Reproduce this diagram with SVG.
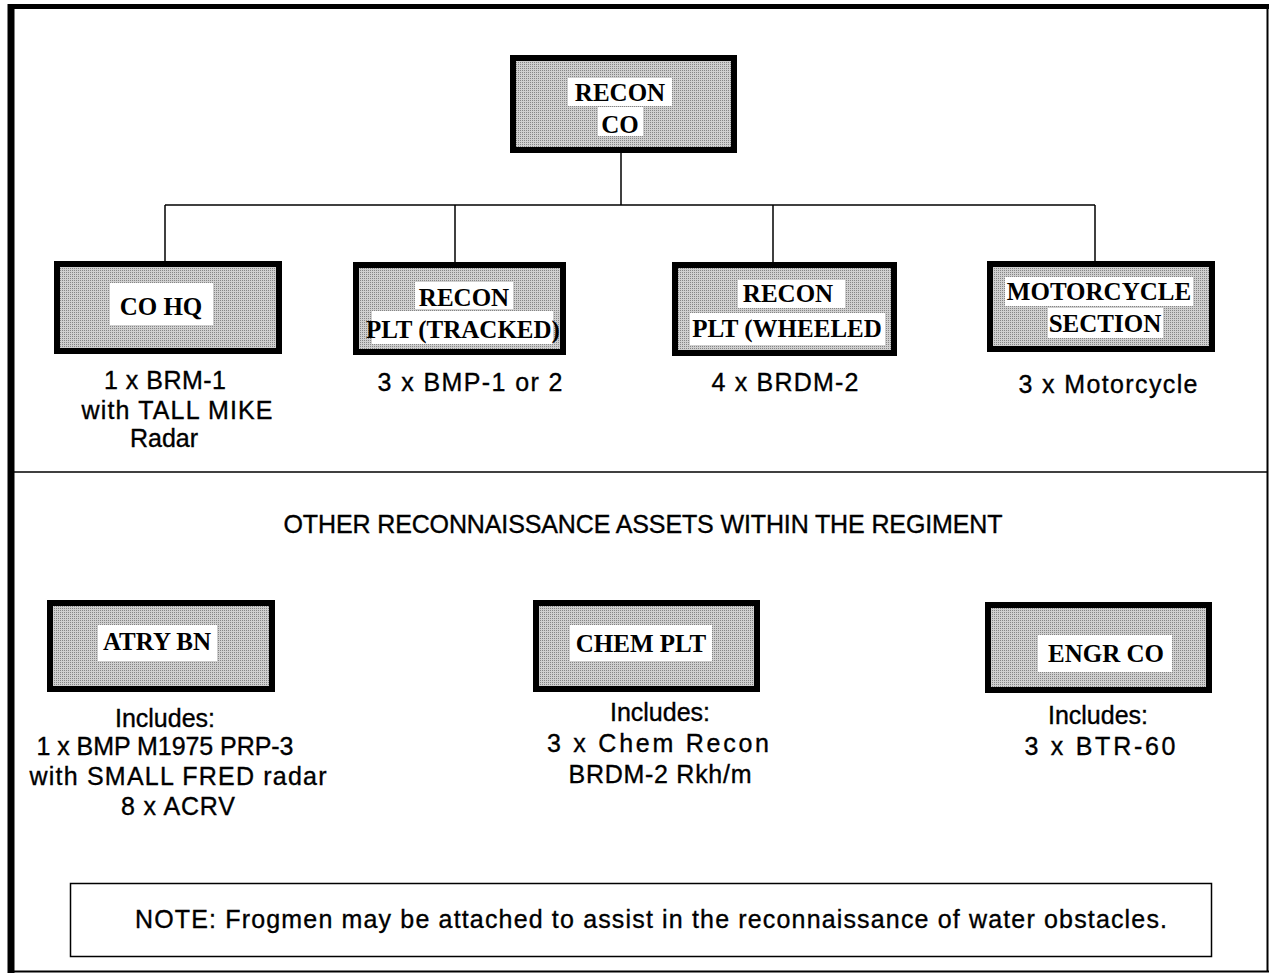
<svg xmlns="http://www.w3.org/2000/svg" width="1273" height="975" viewBox="0 0 1273 975">
<defs>
<pattern id="dots" width="2" height="2" patternUnits="userSpaceOnUse">
<rect width="2" height="2" fill="#cfcfcf"/>
<rect width="1" height="1" fill="#858585"/>
</pattern>
</defs>
<style>
.box{fill:url(#dots);stroke:#000;stroke-width:6}
.lbl{fill:#fff}
.bt{font-family:"Liberation Serif","Times New Roman",serif;font-weight:bold;font-size:25px;fill:#000;text-anchor:middle}
.st{font-family:"Liberation Sans",Arial,sans-serif;font-size:25px;fill:#000;stroke:#000;stroke-width:0.35;text-anchor:middle}
.ln{stroke:#000;stroke-width:1.5;fill:none}
</style>
<rect width="1273" height="975" fill="#fff"/>
<g id="frame">
<line x1="11" y1="4" x2="11" y2="973" stroke="#000" stroke-width="7"/>
<line x1="8" y1="6.5" x2="1269" y2="6.5" stroke="#000" stroke-width="5"/>
<line x1="1267.5" y1="5" x2="1267.5" y2="972" stroke="#000" stroke-width="2"/>
<line x1="8" y1="971.5" x2="1269" y2="971.5" stroke="#000" stroke-width="2"/>
<line x1="14" y1="472" x2="1267" y2="472" stroke="#000" stroke-width="1.5"/>
</g>
<g id="connectors">
<line class="ln" x1="621" y1="153" x2="621" y2="205"/>
<line class="ln" x1="165" y1="205" x2="1095" y2="205"/>
<line class="ln" x1="165" y1="205" x2="165" y2="261"/>
<line class="ln" x1="455" y1="205" x2="455" y2="262"/>
<line class="ln" x1="773" y1="205" x2="773" y2="262"/>
<line class="ln" x1="1095" y1="205" x2="1095" y2="261"/>
</g>
<g id="recon-co">
<rect class="box" x="513" y="58" width="221" height="92"/>
<rect class="lbl" x="568" y="78" width="104" height="28"/>
<rect class="lbl" x="598" y="107" width="45" height="29"/>
<text class="bt" x="620" y="101">RECON</text>
<text class="bt" x="620" y="133">CO</text>
</g>
<g id="co-hq">
<rect class="box" x="57" y="264" width="222" height="87"/>
<rect class="lbl" x="110" y="283" width="103" height="42"/>
<text class="bt" x="161" y="315">CO HQ</text>
<text class="st" x="165" y="389" textLength="122" lengthAdjust="spacing">1 x BRM-1</text>
<text class="st" x="177" y="419" textLength="191" lengthAdjust="spacing">with TALL MIKE</text>
<text class="st" x="164" y="447">Radar</text>
</g>
<g id="recon-plt-tracked">
<rect class="box" x="356" y="265" width="207" height="87"/>
<rect class="lbl" x="415" y="282" width="98" height="27"/>
<rect class="lbl" x="372" y="311" width="181" height="33"/>
<text class="bt" x="464" y="306">RECON</text>
<text class="bt" x="463" y="338">PLT (TRACKED)</text>
<text class="st" x="470" y="391" textLength="185" lengthAdjust="spacing">3 x BMP-1 or 2</text>
</g>
<g id="recon-plt-wheeled">
<rect class="box" x="675" y="265" width="219" height="88"/>
<rect class="lbl" x="738" y="280" width="107" height="28"/>
<rect class="lbl" x="690" y="313" width="195" height="32"/>
<text class="bt" x="788" y="302">RECON</text>
<text class="bt" x="787" y="337">PLT (WHEELED</text>
<text class="st" x="785" y="391" textLength="147" lengthAdjust="spacing">4 x BRDM-2</text>
</g>
<g id="motorcycle-section">
<rect class="box" x="990" y="264" width="222" height="85"/>
<rect class="lbl" x="1005" y="277" width="188" height="29"/>
<rect class="lbl" x="1048" y="308" width="115" height="30"/>
<text class="bt" x="1099" y="300">MOTORCYCLE</text>
<text class="bt" x="1105" y="332">SECTION</text>
<text class="st" x="1108" y="393" textLength="179" lengthAdjust="spacing">3 x Motorcycle</text>
</g>
<text class="st" x="643" y="533" textLength="719" lengthAdjust="spacing">OTHER RECONNAISSANCE ASSETS WITHIN THE REGIMENT</text>
<g id="atry-bn">
<rect class="box" x="50" y="603" width="222" height="86"/>
<rect class="lbl" x="98" y="625" width="119" height="36"/>
<text class="bt" x="157" y="650">ATRY BN</text>
<text class="st" x="165" y="727">Includes:</text>
<text class="st" x="165" y="755" textLength="257" lengthAdjust="spacing">1 x BMP M1975 PRP-3</text>
<text class="st" x="178" y="785" textLength="297" lengthAdjust="spacing">with SMALL FRED radar</text>
<text class="st" x="178" y="815" textLength="114" lengthAdjust="spacing">8 x ACRV</text>
</g>
<g id="chem-plt">
<rect class="box" x="536" y="603" width="221" height="86"/>
<rect class="lbl" x="570" y="625" width="142" height="36"/>
<text class="bt" x="641" y="652">CHEM PLT</text>
<text class="st" x="660" y="721">Includes:</text>
<text class="st" x="658" y="752" textLength="222" lengthAdjust="spacing">3 x Chem Recon</text>
<text class="st" x="660" y="783" textLength="183" lengthAdjust="spacing">BRDM-2 Rkh/m</text>
</g>
<g id="engr-co">
<rect class="box" x="988" y="605" width="221" height="85"/>
<rect class="lbl" x="1038" y="635" width="134" height="37"/>
<text class="bt" x="1106" y="662">ENGR CO</text>
<text class="st" x="1098" y="724">Includes:</text>
<text class="st" x="1100" y="755" textLength="151" lengthAdjust="spacing">3 x BTR-60</text>
</g>
<g id="note">
<rect x="70.5" y="883.5" width="1141" height="73" fill="none" stroke="#000" stroke-width="1.5"/>
<text class="st" x="651" y="928" textLength="1032" lengthAdjust="spacing">NOTE:  Frogmen may be attached to assist in the reconnaissance of water obstacles.</text>
</g>
</svg>
